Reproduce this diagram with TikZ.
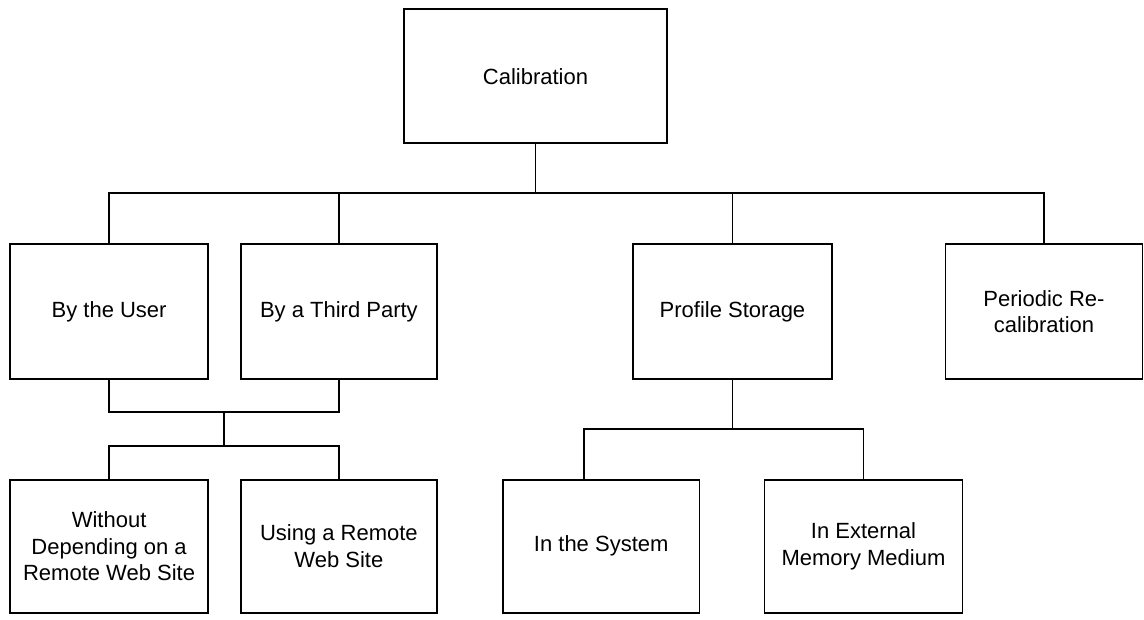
\documentclass[tikz,border=0pt]{standalone}
\usepackage{fontspec}
\setmainfont{Liberation Sans}
\begin{document}
\begin{tikzpicture}[x=1pt,y=-1pt,
  box/.style={draw, line width=1.8pt, minimum width=#1, inner sep=0pt, align=center,
    font=\fontsize{22}{26.5}\selectfont},
  box/.default=198pt,
  conn/.style={line width=1.8pt}]
\useasboundingbox (0,0) rectangle (1144,619);
% nodes
\node[box=263pt, minimum height=134pt] (cal) at (535.5,76.3) {Calibration};
\node[box=198pt, minimum height=135pt] (user) at (109.1,311.5) {By the User};
\node[box=196pt, minimum height=135pt] (third) at (338.9,311.5) {By a Third Party};
\node[box=198.5pt, minimum height=135pt] (prof) at (732.5,311.5) {Profile Storage};
\node[box=197pt, minimum height=135pt] (per) at (1044,311.5) {Periodic Re-\\calibration};
\node[box=198pt, minimum height=132.7pt] (without) at (109.1,546.3) {Without\\Depending on a\\Remote Web Site};
\node[box=196pt, minimum height=132.7pt] (using) at (338.9,546.3) {Using a Remote\\Web Site};
\node[box=196.5pt, minimum height=132.7pt] (sys) at (601.2,546.3) {In the System};
\node[box=198pt, minimum height=132.7pt] (ext) at (863.5,546.3) {In External\\Memory Medium};
% junction points
\coordinate (bus) at (535.5,192.7);
\coordinate (j1) at (224,412.3);
\coordinate (j2) at (224,445.7);
\coordinate (j3) at (732.5,429.3);
\coordinate (s1) at (584.3,429.3);
% connectors
\draw[conn] (cal.south) -- (bus);
\draw[conn] (user.north) |- (bus) -| (per.north);
\draw[conn] (third.north) -- (third.north |- bus);
\draw[conn] (prof.north) -- (prof.north |- bus);
\draw[conn] (user.south) |- (j1) -| (third.south);
\draw[conn] (j1) -- (j2);
\draw[conn] (without.north) |- (j2) -| (using.north);
\draw[conn] (prof.south) -- (j3);
\draw[conn] (s1 |- sys.north) -- (s1) -- (j3) -| (ext.north);
\end{tikzpicture}
\end{document}
